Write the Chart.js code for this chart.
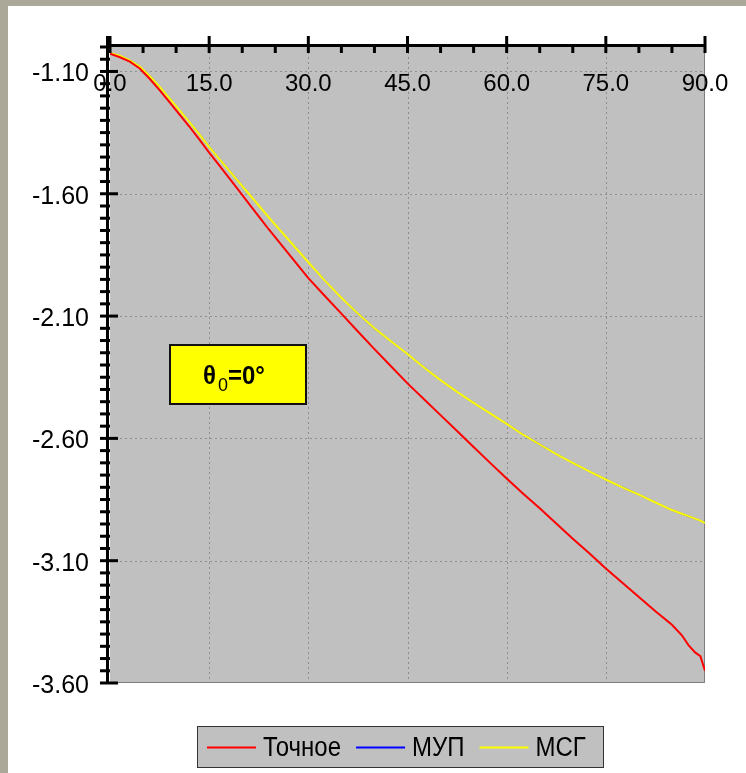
<!DOCTYPE html>
<html>
<head>
<meta charset="utf-8">
<title>θ0=0°</title>
<script src="https://cdn.jsdelivr.net/npm/chart.js@4/dist/chart.umd.min.js"></script>
<style>
  html, body { margin: 0; padding: 0; }
  body { width: 746px; height: 773px; background: #aca899; overflow: hidden; position: relative; }
  #wrap { position: absolute; left: 8px; top: 6px; width: 738px; height: 767px; background: #fff; }
  canvas { display: block; }
</style>
</head>
<body>
<div id="wrap"><canvas id="plot" width="738" height="767"></canvas></div>
<script>
// угол, градусы
const angles = [0, 1.5, 3, 4.5, 6, 7.5, 9, 10.5, 12, 13.5, 15, 16.5, 18, 19.5, 21, 22.5, 24, 25.5, 27, 28.5,
  30, 32.5, 35, 37.5, 40, 42.5, 45, 47.5, 50, 52.5, 55, 57.5, 60, 62.5, 65, 67.5, 70, 72.5, 75, 77.5,
  80, 82.5, 85, 86.5, 87.5, 88.5, 89.3, 90];

const exact = [-1.027, -1.042, -1.06, -1.088, -1.13, -1.176, -1.225, -1.275, -1.325, -1.378, -1.432, -1.483, -1.535, -1.587,
  -1.64, -1.692, -1.745, -1.795, -1.845, -1.895, -1.945, -2.018, -2.09, -2.163, -2.235, -2.305, -2.375, -2.44, -2.505, -2.57,
  -2.635, -2.70, -2.764, -2.826, -2.886, -2.948, -3.01, -3.07, -3.132, -3.19, -3.248, -3.307, -3.362, -3.405, -3.445,
  -3.475, -3.49, -3.55];

const msg = [-1.024, -1.036, -1.055, -1.08, -1.118, -1.162, -1.21, -1.258, -1.306, -1.356, -1.408, -1.456, -1.504, -1.552,
  -1.6, -1.648, -1.696, -1.742, -1.788, -1.834, -1.88, -1.955, -2.025, -2.09, -2.15, -2.203, -2.255, -2.31, -2.362, -2.41,
  -2.455, -2.498, -2.541, -2.585, -2.625, -2.664, -2.7, -2.735, -2.768, -2.8, -2.83, -2.862, -2.893, -2.908, -2.918,
  -2.928, -2.936, -2.946];

// МУП совпадает с МСГ и лежит под ней
const mup = msg.slice();

const xTicks = [0, 15, 30, 45, 60, 75, 90];
const yTicks = [-3.6, -3.1, -2.6, -2.1, -1.6, -1.1];

const toXY = ys => angles.map((a, i) => ({ x: a, y: ys[i] }));

const FONT = '"Liberation Sans", Arial, sans-serif';

// текст, слегка вытянутый по вертикали
function tallText(ctx, str, x, y, sy) {
  ctx.save();
  ctx.translate(x, y);
  ctx.scale(1, sy);
  ctx.fillText(str, 0, 0);
  ctx.restore();
}

// фон, сетка, оси, подписи, рамка с θ0 и легенда
const decor = {
  id: 'decor',
  beforeDatasetsDraw(chart) {
    const { ctx, chartArea: a, scales: { x, y } } = chart;
    ctx.save();
    ctx.fillStyle = '#c0c0c0';
    ctx.fillRect(a.left, a.top, a.right - a.left, a.bottom - a.top);

    ctx.strokeStyle = '#8e8e8e';
    ctx.lineWidth = 1;
    ctx.setLineDash([2, 3]);
    xTicks.slice(1, -1).forEach(v => {
      const px = Math.round(x.getPixelForValue(v)) + 0.5;
      ctx.beginPath(); ctx.moveTo(px, a.top); ctx.lineTo(px, a.bottom); ctx.stroke();
    });
    yTicks.slice(1).forEach(v => {
      const py = Math.round(y.getPixelForValue(v)) + 0.5;
      ctx.beginPath(); ctx.moveTo(a.left, py); ctx.lineTo(a.right, py); ctx.stroke();
    });
    ctx.setLineDash([]);

    ctx.strokeStyle = '#7c7c7c';
    ctx.beginPath();
    ctx.moveTo(a.right - 0.5, a.top); ctx.lineTo(a.right - 0.5, a.bottom - 0.5); ctx.lineTo(a.left, a.bottom - 0.5);
    ctx.stroke();
    ctx.restore();
  },
  afterDatasetsDraw(chart) {
    const { ctx, chartArea: a, scales: { x, y } } = chart;
    ctx.save();
    ctx.strokeStyle = '#000';
    ctx.lineWidth = 3;
    ctx.lineCap = 'butt';

    // верхняя ось
    const ax = a.top - 1.5;
    ctx.beginPath(); ctx.moveTo(a.left - 4, ax); ctx.lineTo(a.right + 1, ax); ctx.stroke();
    for (let v = 0; v <= 90; v += 5) {
      const px = x.getPixelForValue(v);
      ctx.beginPath();
      if (v % 15 === 0) { ctx.moveTo(px, a.top - 11); ctx.lineTo(px, a.top + 6); }
      else { ctx.moveTo(px, a.top); ctx.lineTo(px, a.top + 6); }
      ctx.stroke();
    }

    // левая ось
    const ay = a.left - 2.5;
    ctx.beginPath(); ctx.moveTo(ay, a.top - 11); ctx.lineTo(ay, a.bottom + 1); ctx.stroke();
    for (let k = 0; k <= 52; k++) {
      const v = -3.6 + k * 0.05;
      const py = y.getPixelForValue(v);
      ctx.beginPath();
      if (k % 10 === 0) { ctx.moveTo(a.left - 10, py); ctx.lineTo(a.left + 8, py); }
      else { ctx.moveTo(a.left - 10, py); ctx.lineTo(a.left, py); }
      ctx.stroke();
    }

    ctx.fillStyle = '#000';
    ctx.font = '24px ' + FONT;
    ctx.textAlign = 'center';
    ctx.textBaseline = 'middle';
    xTicks.forEach(v => tallText(ctx, v.toFixed(1), x.getPixelForValue(v), a.top + 37, 1.0));
    ctx.font = '25px ' + FONT;
    ctx.textAlign = 'right';
    yTicks.forEach(v => tallText(ctx, v.toFixed(2), a.left - 21, y.getPixelForValue(v) + 3, 1.0));

    // подпись θ0 = 0°
    const bx = a.left + 60, by = a.top + 298, bw = 136, bh = 59;
    ctx.fillStyle = '#ffff00';
    ctx.fillRect(bx, by, bw, bh);
    ctx.strokeStyle = '#111';
    ctx.lineWidth = 2;
    ctx.strokeRect(bx, by, bw, bh);
    ctx.fillStyle = '#000';
    ctx.textAlign = 'left';
    ctx.textBaseline = 'alphabetic';
    let tx = bx + 33;
    const base = by + 39;
    ctx.font = 'bold 24px ' + FONT;
    tallText(ctx, 'θ', tx, base, 1.05); tx += ctx.measureText('θ').width + 2;
    ctx.font = '18px ' + FONT;
    tallText(ctx, '0', tx, base + 7, 1.05); tx += ctx.measureText('0').width;
    ctx.font = 'bold 24px ' + FONT;
    tallText(ctx, '=0°', tx, base, 1.05);

    // легенда
    const lx = 189, ly = 720, lw = 406, lh = 41;
    ctx.fillStyle = '#c0c0c0';
    ctx.fillRect(lx, ly, lw, lh);
    ctx.strokeStyle = '#333';
    ctx.lineWidth = 1;
    ctx.strokeRect(lx + 0.5, ly + 0.5, lw, lh);
    ctx.font = '24px ' + FONT;
    ctx.textBaseline = 'middle';
    let cx = lx + 10;
    const cy = ly + 21;
    [...chart.data.datasets].sort((p, q) => p.legendIndex - q.legendIndex).forEach(ds => {
      ctx.strokeStyle = ds.borderColor;
      ctx.lineWidth = 2;
      ctx.beginPath(); ctx.moveTo(cx, cy + 0.5); ctx.lineTo(cx + 49, cy + 0.5); ctx.stroke();
      cx += 56;
      ctx.fillStyle = '#000';
      tallText(ctx, ds.label, cx, cy + 1, 1.15);
      cx += ctx.measureText(ds.label).width + 15;
    });
    ctx.restore();
  }
};

new Chart(document.getElementById('plot'), {
  type: 'line',
  data: {
    datasets: [
      { label: 'Точное', data: toXY(exact), borderColor: '#ff0000', borderWidth: 2, order: 1, legendIndex: 0 },
      { label: 'МУП', data: toXY(mup), borderColor: '#0000ff', borderWidth: 1.5, order: 3, legendIndex: 1 },
      { label: 'МСГ', data: toXY(msg), borderColor: '#ffff00', borderWidth: 2, order: 2, legendIndex: 2 }
    ]
  },
  options: {
    responsive: false,
    animation: false,
    devicePixelRatio: 1,
    layout: { padding: { left: 102, top: 41, right: 41, bottom: 90 } },
    elements: { point: { radius: 0 }, line: { tension: 0 } },
    scales: {
      x: { type: 'linear', min: 0, max: 90, display: false },
      y: { type: 'linear', min: -3.6, max: -1.0, display: false }
    },
    plugins: { legend: { display: false }, tooltip: { enabled: false } }
  },
  plugins: [decor]
});
</script>
</body>
</html>
